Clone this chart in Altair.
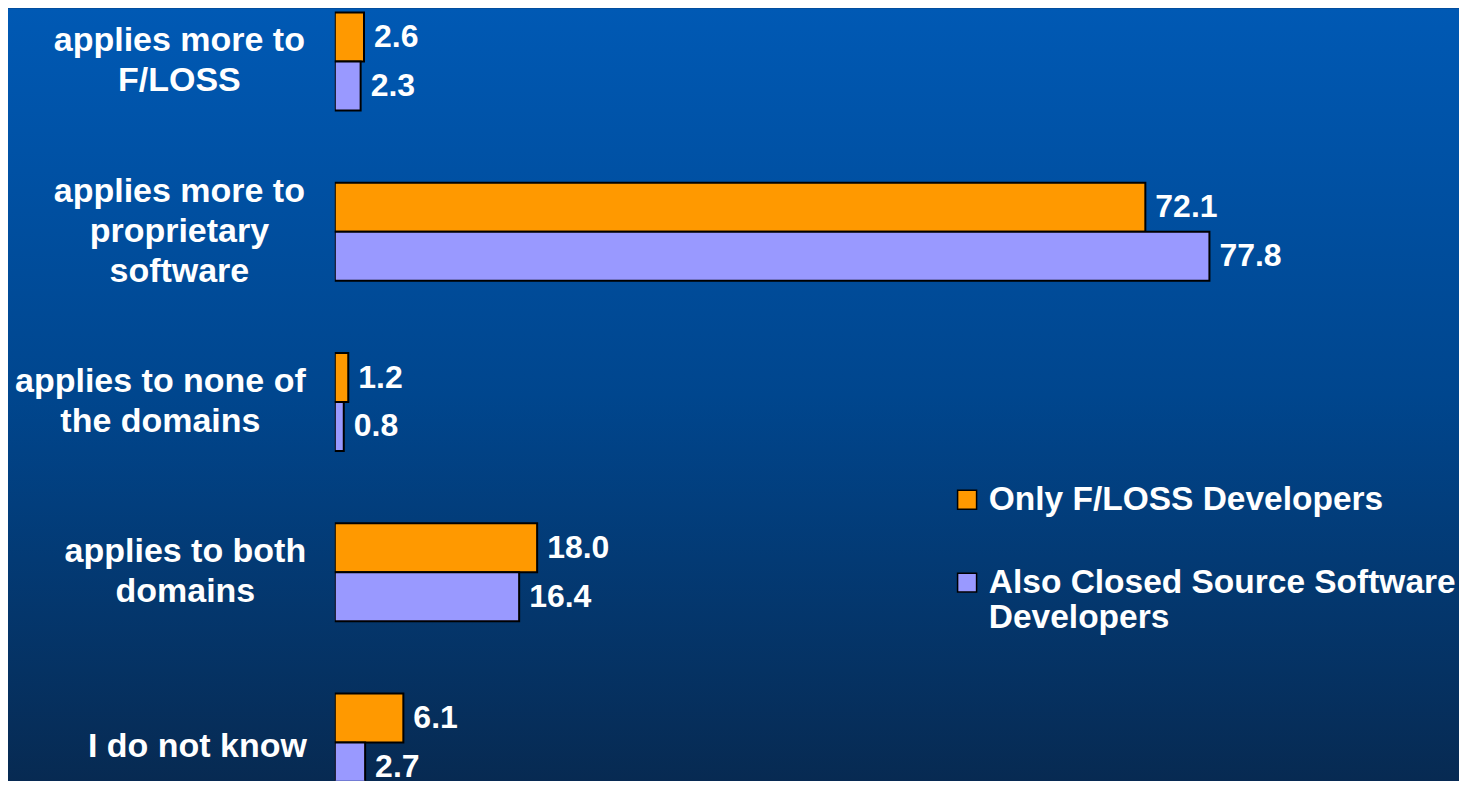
import json
import altair as alt
import pandas as pd

# ---- data ----
categories = [
    "applies more to\nF/LOSS",
    "applies more to\nproprietary\nsoftware",
    "applies to none of\nthe domains",
    "applies to both\ndomains",
    "I do not know",
]
series = ["Only F/LOSS Developers", "Also Closed Source Software\nDevelopers"]
only_floss = [2.6, 72.1, 1.2, 18.0, 6.1]
also_closed = [2.3, 77.8, 0.8, 16.4, 2.7]

df = pd.DataFrame({
    "category": categories * 2,
    "series": [series[0]] * len(categories) + [series[1]] * len(categories),
    "value": only_floss + also_closed,
})

# ---- styling ----
FONT = "Liberation Sans"
W, H = 1125, 773
LEFT = 327
LINE_H = 40
series_colors = ["#FF9900", "#9999FF"]

label_pad = dict(zip(categories, [156, 156, 175, 150, 138]))
pad_cond = {
    "condition": [
        {"test": "datum.value === " + json.dumps(c), "value": p}
        for c, p in label_pad.items()
    ],
    "value": 155,
}
# centre multi-line label blocks on their band
off_cond = {
    "condition": [
        {"test": "datum.value === " + json.dumps(c),
         "value": -(c.count("\n")) * LINE_H / 2 if "\n" in c else 4}
        for c in categories
    ],
    "value": 0,
}

gradient = {
    "gradient": "linear",
    "x1": 0, "y1": 0, "x2": 0, "y2": 1,
    "stops": [
        {"offset": 0, "color": "#0059B4"},
        {"offset": 0.5, "color": "#00468E"},
        {"offset": 1, "color": "#072A52"},
    ],
}

bg = alt.Chart(alt.Data(values=[{}])).mark_rect(color=gradient, clip=False).encode(
    x=alt.value(-LEFT), x2=alt.value(W), y=alt.value(0), y2=alt.value(H)
)

y_enc = alt.Y(
    "category:N",
    sort=categories,
    title=None,
    scale=alt.Scale(range=[-32, 820], paddingInner=0.425, paddingOuter=0.2125),
    axis=alt.Axis(
        domain=False, ticks=False, tickSize=0, grid=False,
        labelColor="white", labelFont=FONT, labelFontSize=34, labelFontWeight="bold",
        labelAlign="center", labelBaseline="middle", labelLineHeight=LINE_H,
        labelPadding=pad_cond, labelOffset=off_cond, labelLimit=1000,
        labelExpr="split(datum.label, '\\n')", zindex=1,
    ),
)
yoff = alt.YOffset("series:N", sort=series, scale=alt.Scale(paddingInner=0, paddingOuter=0))
x_enc = alt.X("value:Q", scale=alt.Scale(domain=[0, 100], nice=False, zero=True), axis=None)

bars = alt.Chart(df).mark_bar(stroke="black", strokeWidth=2, clip=True).encode(
    y=y_enc,
    yOffset=yoff,
    x=x_enc,
    color=alt.Color(
        "series:N",
        sort=series,
        scale=alt.Scale(domain=series, range=series_colors),
        legend=alt.Legend(
            title=None, orient="none", legendX=616, legendY=475, direction="vertical",
            symbolType="square", symbolSize=361, symbolStrokeColor="black",
            symbolStrokeWidth=1.5, labelColor="white", labelFont=FONT, labelFontSize=33.5,
            labelFontWeight="bold", labelLimit=1000, labelOffset=5,
            labelExpr="split(datum.label, '\\n')", rowPadding=48, padding=0, zindex=1,
        ),
    ),
)

text = alt.Chart(df).mark_text(
    align="left", baseline="middle", dx=10, color="white",
    font=FONT, fontSize=32, fontWeight="bold",
).encode(
    y=y_enc,
    yOffset=yoff,
    x=x_enc,
    text=alt.Text("value:Q", format=".1f"),
)

chart = alt.layer(bg, bars, text).properties(
    width=W, height=H,
    autosize=alt.AutoSizeParams(type="none"),
    padding={"left": LEFT, "top": 0, "right": 0, "bottom": 0},
    background="#07295A",
).configure_view(stroke=None)

chart.save("out.html", embed_options={"renderer": "svg", "actions": False})
